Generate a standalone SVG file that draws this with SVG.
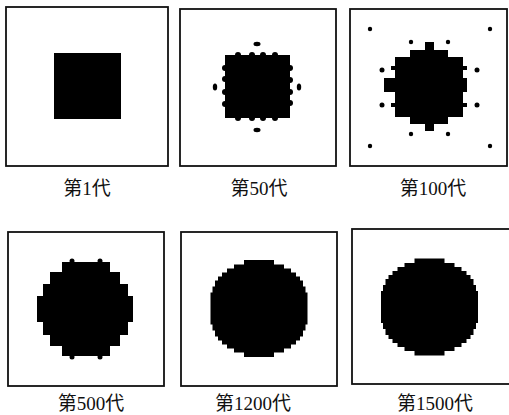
<svg xmlns="http://www.w3.org/2000/svg" width="509" height="415" viewBox="0 0 509 415">
<defs>
<style>
.frame{fill:#fff;stroke:#111;stroke-width:1.8}
.blob{fill:#000}
.lbl{font-family:"Liberation Serif","Noto Sans CJK SC",serif;font-size:19px;fill:#111;text-anchor:middle}
</style>
<path id="disc" d="M-15,-48.5H15V-44H25V-40H32V-36H37V-32H41V-28H44V-22H46.5V-16H48.5V16H46.5V22H44V28H41V32H37V36H32V40H25V44H15V48.5H-15V44H-25V40H-32V36H-37V32H-41V28H-44V22H-46.5V16H-48.5V-16H-46.5V-22H-44V-28H-41V-32H-37V-36H-32V-40H-25V-44H-15Z"/>
</defs>
<rect width="509" height="415" fill="#fff"/>
<g id="gen1">
<rect class="frame" x="6" y="7" width="162" height="159"/>
<rect class="blob" x="54" y="53" width="67" height="66"/>
<text class="lbl" x="87" y="195">第1代</text>
</g>
<g id="gen50">
<rect class="frame" x="180" y="9" width="156" height="157"/>
<rect class="blob" x="225" y="55" width="65" height="63"/>
<g class="blob">
<circle cx="238" cy="55" r="3"/><circle cx="252" cy="55" r="3"/><circle cx="263" cy="55" r="3"/><circle cx="275" cy="55" r="3"/>
<circle cx="238" cy="118" r="3"/><circle cx="252" cy="118" r="3"/><circle cx="263" cy="118" r="3"/><circle cx="275" cy="118" r="3"/>
<circle cx="225" cy="68" r="3"/><circle cx="225" cy="79" r="3"/><circle cx="225" cy="92" r="3"/><circle cx="225" cy="104" r="3"/>
<circle cx="290" cy="68" r="3"/><circle cx="290" cy="80" r="3"/><circle cx="290" cy="92" r="3"/><circle cx="290" cy="103" r="3"/>
<ellipse cx="257" cy="44" rx="3.5" ry="2.2"/><ellipse cx="257" cy="130" rx="3.5" ry="2.2"/>
<ellipse cx="215" cy="87" rx="2.2" ry="3.5"/><ellipse cx="299" cy="87" rx="2.2" ry="3.5"/>
</g>
<text class="lbl" x="259" y="195">第50代</text>
</g>
<g id="gen100">
<rect class="frame" x="350" y="9" width="157" height="157"/>
<path class="blob" d="M425,42H434V50H448V57H463V78H467V92H463V117H448V124H434V131H425V124H410V117H395V92H384V78H395V57H410V50H425Z"/>
<g class="blob">
<rect x="391" y="66" width="4" height="4"/><rect x="391" y="103" width="4" height="4"/>
<rect x="463" y="66" width="4" height="4"/><rect x="463" y="103" width="4" height="4"/>
<circle cx="370" cy="29" r="2.2"/><circle cx="490" cy="29" r="2.2"/><circle cx="370" cy="146" r="2.2"/><circle cx="490" cy="146" r="2.2"/>
<circle cx="411" cy="42" r="2.2"/><circle cx="448" cy="42" r="2.2"/><circle cx="411" cy="134" r="2.2"/><circle cx="448" cy="134" r="2.2"/>
<circle cx="382" cy="70" r="2.5"/><circle cx="477" cy="70" r="2.5"/><circle cx="382" cy="105" r="2.5"/><circle cx="477" cy="105" r="2.5"/>
</g>
<text class="lbl" x="433" y="195">第100代</text>
</g>
<g id="gen500">
<rect class="frame" x="8" y="232" width="156" height="154"/>
<path class="blob" d="M62,262H110V272H120V284H128V296H133V322H128V335H120V346H110V356H62V346H50V335H43V322H37V296H43V284H50V272H62Z"/>
<g class="blob">
<circle cx="72" cy="261" r="2.5"/><circle cx="100" cy="261" r="2.5"/><circle cx="72" cy="357" r="2.5"/><circle cx="100" cy="357" r="2.5"/>
</g>
<text class="lbl" x="91" y="410">第500代</text>
</g>
<g id="gen1200">
<rect class="frame" x="181" y="232" width="156" height="154"/>
<use class="blob" href="#disc" x="259" y="308.5"/>
<text class="lbl" x="253" y="410">第1200代</text>
</g>
<g id="gen1500">
<rect class="frame" x="352" y="229" width="162" height="155"/>
<use class="blob" href="#disc" x="429.5" y="307"/>
<text class="lbl" x="435" y="410">第1500代</text>
</g>
<g id="connectors"/>
</svg>
